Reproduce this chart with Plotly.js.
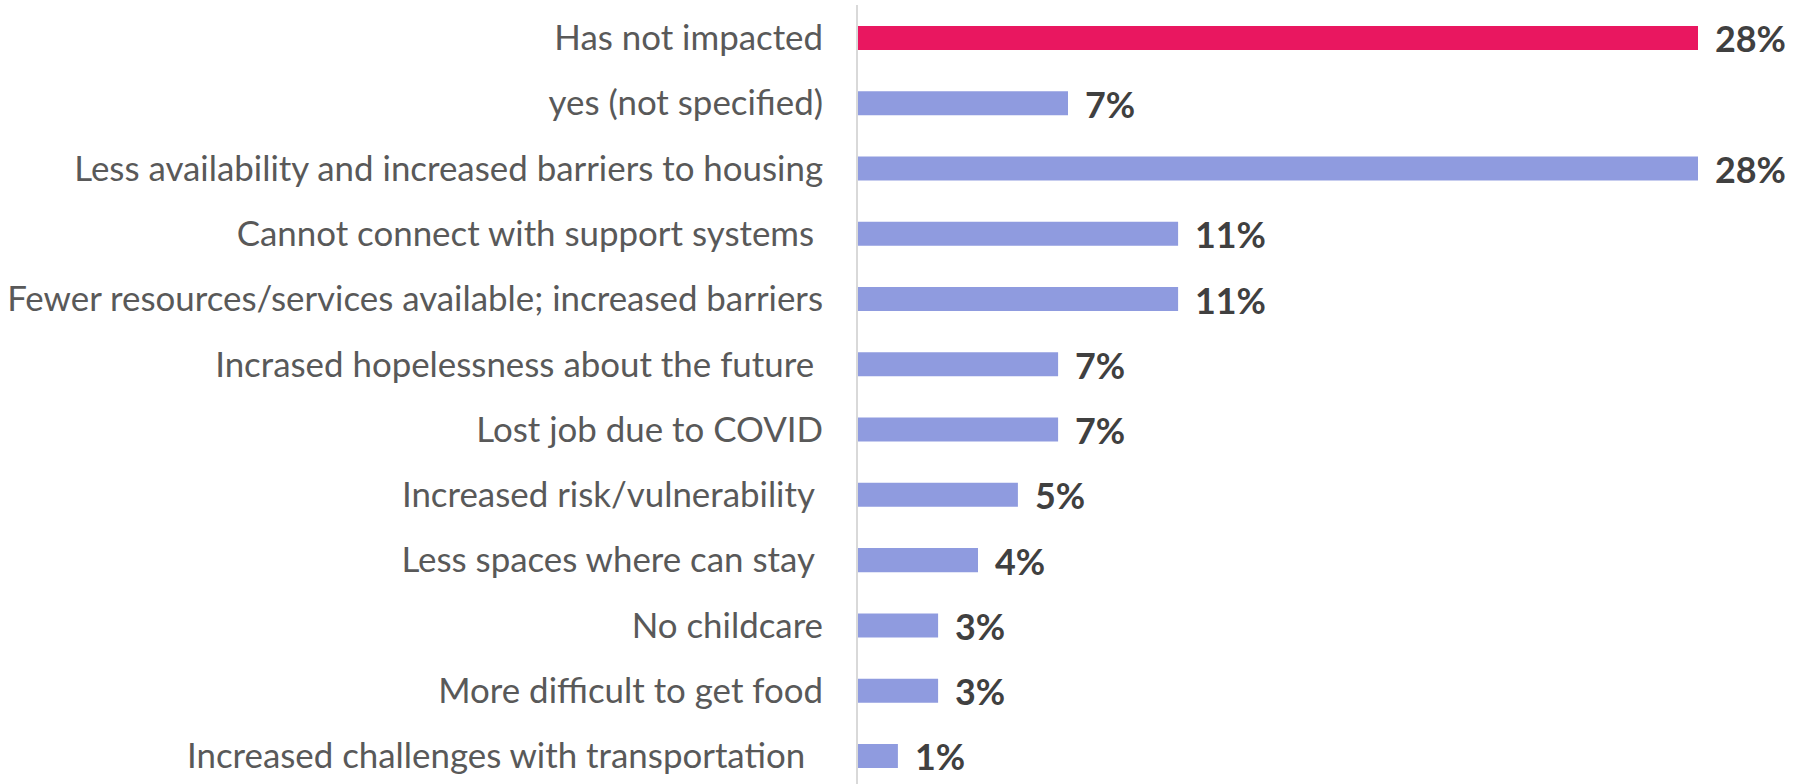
<!DOCTYPE html>
<html>
<head>
<meta charset="utf-8">
<script src="https://cdn.plot.ly/plotly-3.0.1.min.js"></script>
<style>html,body{margin:0;padding:0;background:#fff;}#chart{width:1805px;height:784px;}</style>
</head>
<body>
<div id="chart"></div>
<script>
// Data (top to bottom as in the reference)
var categories = [
  "Has not impacted",
  "yes (not specified)",
  "Less availability and increased barriers to housing",
  "Cannot connect with support systems\u00a0",
  "Fewer resources/services available; increased barriers",
  "Incrased hopelessness about the future\u00a0",
  "Lost job due to COVID",
  "Increased risk/vulnerability\u00a0",
  "Less spaces where can stay\u00a0",
  "No childcare",
  "More difficult to get food",
  "Increased challenges with transportation\u00a0\u00a0"
];
var values = [28, 7, 28, 10.67, 10.67, 6.67, 6.67, 5.33, 4, 2.67, 2.67, 1.33];
var valueLabels = ["28%", "7%", "28%", "11%", "11%", "7%", "7%", "5%", "4%", "3%", "3%", "1%"];
var highlight = "Has not impacted";

var FONT = "Lato, 'Open Sans', sans-serif";
function measure(txt, font) {
  var c = document.createElement("canvas").getContext("2d");
  c.font = font;
  return c.measureText(txt).width;
}
var catSize = Math.min(40, 100 * 817 / measure("Fewer resources/services available; increased barriers", "100px Lato"));
var valSize = Math.min(44, 100 * 71 / measure("28%", "bold 100px Lato"));

var colors = categories.map(function (c) { return c === highlight ? "#E91760" : "#8F9BDF"; });

var trace = {
  type: "bar",
  orientation: "h",
  x: values,
  y: categories,
  marker: { color: colors },
  hoverinfo: "none"
};

var annotations = categories.map(function (c, i) {
  return {
    x: values[i], y: c, xref: "x", yref: "y",
    text: valueLabels[i], showarrow: false,
    xanchor: "left", yanchor: "middle", xshift: 15, yshift: -1,
    font: { family: FONT, size: valSize, color: "#404040", weight: "bold" }
  };
});

var layout = {
  width: 1805, height: 784,
  margin: { l: 858, r: 2, t: 5, b: 0, pad: 0 },
  paper_bgcolor: "#ffffff",
  plot_bgcolor: "#ffffff",
  showlegend: false,
  bargap: 0.632,
  xaxis: {
    range: [0, 31.5], showgrid: false, zeroline: false, showticklabels: false,
    showline: false, fixedrange: true
  },
  yaxis: {
    type: "category", range: [11.43, -0.505],
    showgrid: false, zeroline: false,
    showline: true, linecolor: "#D9D9D9", linewidth: 2,
    ticks: "", ticklabelstandoff: 26,
    tickfont: { family: FONT, size: catSize, color: "#595959" },
    fixedrange: true
  },
  annotations: annotations
};

Plotly.newPlot("chart", [trace], layout, { displayModeBar: false, staticPlot: true });
</script>
</body>
</html>
